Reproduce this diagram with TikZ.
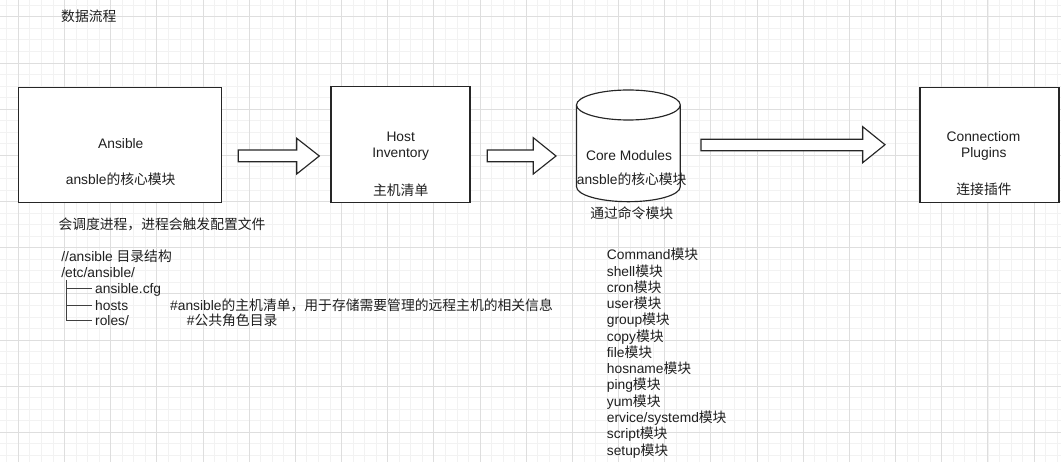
\documentclass[tikz,border=0pt]{standalone}
\usepackage{fontspec}
\setmainfont{Liberation Sans}
\newfontfamily\cjk{Noto Sans CJK SC}
\newcommand{\zh}[1]{{\cjk #1}}
\begin{document}
\begin{tikzpicture}[x=1pt,y=-1pt,
  every node/.style={font=\fontsize{13.8}{16}\selectfont, inner sep=0pt, text=black!88},
  minorgrid/.style={draw=black!5, line width=0.8pt},
  majorgrid/.style={draw=black!13, line width=0.9pt},
  box/.style={draw=black!85, line width=1.15pt, fill=white, rectangle},
  blockarrow/.style={draw=black!85, line width=1.15pt, fill=white, line join=miter},
  lbl/.style={anchor=base},
  ltxt/.style={anchor=base west},
  tree/.style={draw=black!75, line width=1pt}
]
\useasboundingbox (0,0) rectangle (1061,462);
\fill[white] (0,0) rectangle (1061,462);
% grid
\foreach \k in {-2,...,90} { \draw[minorgrid] ({18.3+\k*11.543},0) -- ++(0,462); }
\foreach \k in {-2,...,40} { \draw[minorgrid] (0,{16.8+\k*11.543}) -- ++(1061,0); }
\foreach \k in {0,...,23} { \draw[majorgrid] ({18.3+\k*46.17},0) -- ++(0,462); }
\foreach \k in {0,...,10} { \draw[majorgrid] (0,{16.8+\k*46.17}) -- ++(1061,0); }

% title
\node[ltxt] (title) at (61,22) {\zh{数据流程}};

% boxes
\node[box, minimum width=203pt, minimum height=115pt] (ansible) at (119.7,144.8) {};
\node[box, minimum width=139pt, minimum height=116pt] (host) at (400.5,144.7) {};
\node[box, minimum width=139pt, minimum height=115.5pt] (conn) at (989.5,145) {};

% cylinder
\draw[box] (576.5,105) -- (576.5,186.7) arc[start angle=180, end angle=360, x radius=51.9pt, y radius=15pt] -- (680.3,105);
\draw[box] (628.4,105) ellipse[x radius=51.9pt, y radius=15pt];
\coordinate (core) at (628.4,145);

% block arrows
\draw[blockarrow] (238.3,150) -- (296.7,150) -- (296.7,138.3) -- (319.3,156) -- (296.7,174) -- (296.7,161.7) -- (238.3,161.7) -- cycle;
\draw[blockarrow] (487.3,150) -- (533.3,150) -- (533.3,137.7) -- (556,156) -- (533.3,174) -- (533.3,161.7) -- (487.3,161.7) -- cycle;
\draw[blockarrow] (701,139.3) -- (862.7,139.3) -- (862.7,126.7) -- (885,144.7) -- (862.7,162.7) -- (862.7,150.7) -- (701,150.7) -- cycle;

% box texts
\node[lbl] (a1) at (120.8,149) {Ansible};
\node[lbl] (a2) at (120.7,185) {ansble\zh{的核心模块}};
\node[lbl] (h1) at (400.7,141.7) {Host};
\node[lbl] (h2) at (400.7,157.7) {Inventory};
\node[lbl] (h3) at (400.7,196) {\zh{主机清单}};
\node[lbl] (c1) at (629,161) {Core Modules};
\node[lbl] (c2) at (631.7,184.3) {ansble\zh{的核心模块}};
\node[lbl] (c3) at (631.7,219) {\zh{通过命令模块}};
\node[lbl] (p1) at (983.5,141.7) {Connectiom};
\node[lbl] (p2) at (983.8,157.7) {Plugins};
\node[lbl] (p3) at (984,195) {\zh{连接插件}};

% notes
\node[ltxt] (n1) at (58.3,230) {\zh{会调度进程，进程会触发配置文件}};
\node[ltxt] (d1) at (61.2,261.7) {//ansible \zh{目录结构}};
\node[ltxt] (d2) at (61.2,277.7) {/etc/ansible/};
\draw[tree] (66,280) -- (66,321.5);
\draw[tree] (66,289) -- (91.7,289);
\draw[tree] (66,305.7) -- (91.7,305.7);
\draw[tree] (66,321) -- (91.7,321);
\node[ltxt] (d3) at (95,294) {ansible.cfg};
\node[ltxt] (d4) at (95,310.7) {hosts};
\node[ltxt] (d5) at (95,326) {roles/};
\node[ltxt] (d6) at (170,310.7) {\#ansible\zh{的主机清单，用于存储需要管理的远程主机的相关信息}};
\node[ltxt] (d7) at (186.7,326) {\#\zh{公共角色目录}};

% module list
\foreach \t [count=\i from 0] in {Command,shell,cron,user,group,copy,file,hosname,ping,yum,ervice/systemd,script,setup} {
  \node[ltxt] (m\i) at (606.7,{260+\i*16.25}) {\t\zh{模块}};
}
\end{tikzpicture}
\end{document}
